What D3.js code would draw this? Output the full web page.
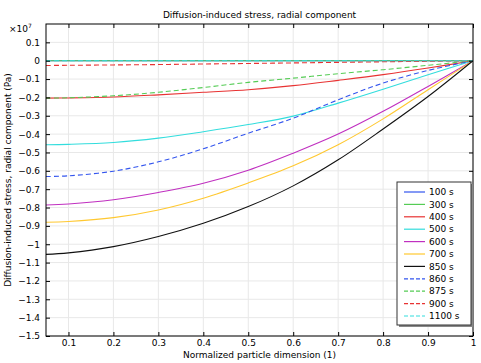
<!DOCTYPE html>
<html><head><meta charset="utf-8">
<script src="https://cdn.jsdelivr.net/npm/d3@7"></script>
<style>body{margin:0;background:#fff;}svg{display:block;font-family:"DejaVu Sans",sans-serif;}</style>
</head><body><svg id="c" width="481" height="363"></svg>
<script>
const xs = [0.05, 0.1, 0.2, 0.3, 0.4, 0.5, 0.6, 0.7, 0.8, 0.9, 1.0];
const s100  = [0, 0, 0, 0, 0, 0, 0, 0, 0, 0, 0];
const s300  = [0, 0, 0, 0, 0, 0, 0, 0, 0, 0, 0];
const s400  = [-0.204, -0.203, -0.198, -0.186, -0.172, -0.158, -0.136, -0.107, -0.076, -0.040, 0];
const s500  = [-0.458, -0.456, -0.446, -0.422, -0.387, -0.348, -0.302, -0.231, -0.155, -0.076, 0];
const s600  = [-0.786, -0.781, -0.758, -0.718, -0.668, -0.597, -0.504, -0.400, -0.276, -0.140, 0];
const s700  = [-0.880, -0.876, -0.855, -0.813, -0.749, -0.666, -0.573, -0.458, -0.317, -0.158, 0];
const s850  = [-1.055, -1.047, -1.013, -0.958, -0.886, -0.795, -0.682, -0.540, -0.372, -0.195, 0];
const s860  = [-0.631, -0.627, -0.602, -0.551, -0.480, -0.395, -0.313, -0.213, -0.122, -0.053, 0];
const s875  = [-0.204, -0.202, -0.191, -0.172, -0.146, -0.118, -0.095, -0.071, -0.049, -0.025, 0];
const s900  = [-0.026, -0.025, -0.023, -0.021, -0.018, -0.015, -0.012, -0.009, -0.006, -0.003, 0];
const s1100 = [0, 0, 0, 0, 0, 0, 0, 0, 0, 0, 0];
const labels = ["100 s","300 s","400 s","500 s","600 s","700 s","850 s","860 s","875 s","900 s","1100 s"];
const colors = ["#3355ee","#55cc55","#e83333","#33dddd","#c030c0","#ffc830","#111111","#3355ee","#55cc55","#e83333","#33dddd"];
const dashed = [false,false,false,false,false,false,false,true,true,true,true];
const seriesVals = [s100,s300,s400,s500,s600,s700,s850,s860,s875,s900,s1100];
const xTicks = [0.1,0.2,0.3,0.4,0.5,0.6,0.7,0.8,0.9,1];
const yTicks = d3.range(-15, 2).map(d => d/10);

const svg = d3.select("#c");
const L = 46, R = 473, T = 24, B = 336;
const x = d3.scaleLinear().domain([0.05, 1]).range([L, R]);
const y = d3.scaleLinear().domain([-1.5, 0.2]).range([B, T]);

// grid
svg.append("g").selectAll("line").data(xTicks).join("line")
  .attr("x1", d => x(d)).attr("x2", d => x(d)).attr("y1", T).attr("y2", B)
  .attr("stroke", "#e8e8e8").attr("stroke-width", 1);
svg.append("g").selectAll("line").data(yTicks).join("line")
  .attr("x1", L).attr("x2", R).attr("y1", d => y(d)).attr("y2", d => y(d))
  .attr("stroke", "#e8e8e8").attr("stroke-width", 1);

// lines
const line = d3.line().x((d, i) => x(xs[i])).y(d => y(d)).curve(d3.curveCatmullRom.alpha(0.5));
svg.append("clipPath").attr("id", "cp").append("rect").attr("x", L).attr("y", T).attr("width", R - L).attr("height", B - T);
const drawOrder = [0,1,2,3,4,5,6,7,8,9,10];
drawOrder.forEach(k => {
  svg.append("path").attr("d", line(seriesVals[k])).attr("fill", "none")
    .attr("stroke", colors[k]).attr("stroke-width", 1.1)
    .attr("stroke-dasharray", dashed[k] ? "5,3" : null)
    .attr("clip-path", "url(#cp)");
});

// axes
const fmt = d => d === 0 ? "0" : d3.format("")(+d.toFixed(1));
svg.append("g").attr("transform", `translate(0,${B})`)
  .call(d3.axisBottom(x).tickValues(xTicks).tickSize(-4).tickPadding(4).tickFormat(fmt))
  .call(g => g.select(".domain").remove());
svg.append("g").attr("transform", `translate(0,${T})`)
  .call(d3.axisTop(x).tickValues(xTicks).tickSize(-4).tickFormat(""))
  .call(g => g.select(".domain").remove());
svg.append("g").attr("transform", `translate(${L},0)`)
  .call(d3.axisLeft(y).tickValues(yTicks).tickSize(-4).tickPadding(6).tickFormat(fmt))
  .call(g => g.select(".domain").remove());
svg.append("g").attr("transform", `translate(${R},0)`)
  .call(d3.axisRight(y).tickValues(yTicks).tickSize(-4).tickFormat(""))
  .call(g => g.select(".domain").remove());
svg.selectAll(".tick text").attr("font-size", 9).attr("font-family", "DejaVu Sans, sans-serif").attr("fill", "#000");
svg.selectAll(".tick line").attr("stroke", "#000");

svg.append("rect").attr("x", L).attr("y", T).attr("width", R - L).attr("height", B - T)
  .attr("fill", "none").attr("stroke", "#000").attr("stroke-width", 1);

// texts
svg.append("text").attr("x", (L + R) / 2).attr("y", 18).attr("text-anchor", "middle")
  .attr("font-size", 9).text("Diffusion-induced stress, radial component");
svg.append("text").attr("x", (L + R) / 2).attr("y", 358).attr("text-anchor", "middle")
  .attr("font-size", 9).text("Normalized particle dimension (1)");
svg.append("text").attr("transform", `translate(11,${(T + B) / 2}) rotate(-90)`).attr("text-anchor", "middle")
  .attr("font-size", 9).text("Diffusion-induced stress, radial component (Pa)");
const mult = svg.append("text").attr("x", 9).attr("y", 32).attr("font-size", 9);
mult.append("tspan").text("×10");
mult.append("tspan").attr("font-size", 6).attr("dy", -4).text("7");

// legend
const lx = 397, ly = 182, lw = 74, lh = 143;
svg.append("rect").attr("x", lx + 2).attr("y", ly + 2).attr("width", lw).attr("height", lh).attr("fill", "#888");
svg.append("rect").attr("x", lx).attr("y", ly).attr("width", lw).attr("height", lh).attr("fill", "#fff").attr("stroke", "#333").attr("stroke-width", 1);
labels.forEach((lab, k) => {
  const yy = ly + 10 + k * 12.4;
  svg.append("line").attr("x1", lx + 7).attr("x2", lx + 28).attr("y1", yy).attr("y2", yy)
    .attr("stroke", colors[k]).attr("stroke-width", 1.2).attr("stroke-dasharray", dashed[k] ? "4,2" : null);
  svg.append("text").attr("x", lx + 32).attr("y", yy + 3.2).attr("font-size", 9).text(lab);
});
</script>
</body></html>
